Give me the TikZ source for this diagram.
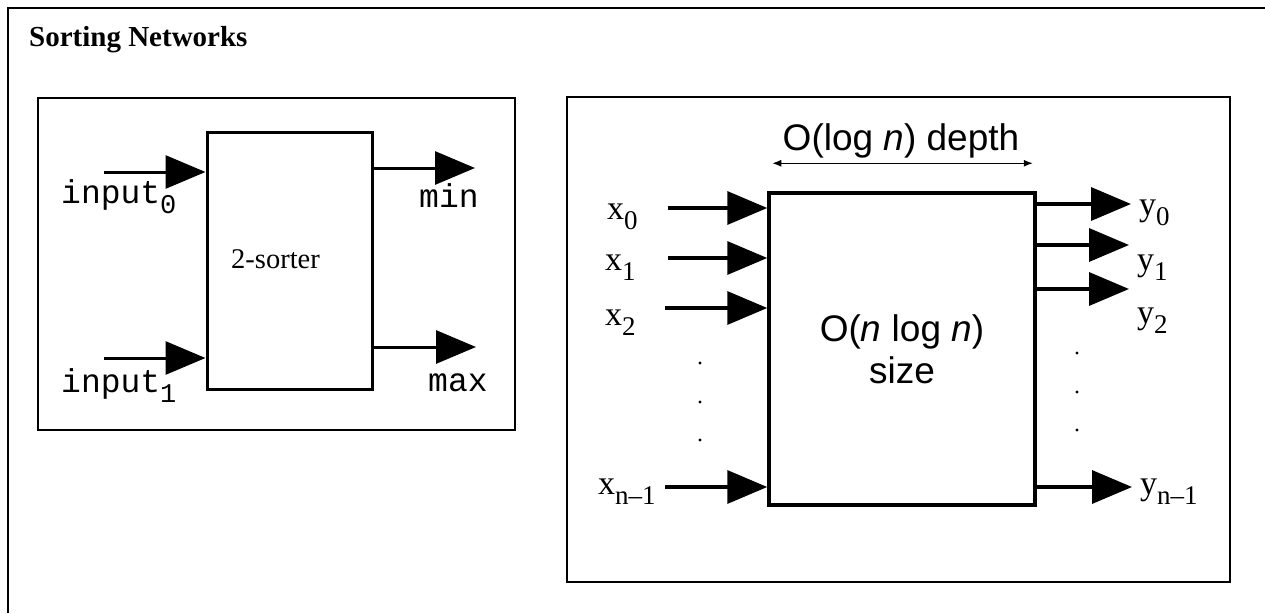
\documentclass[tikz,border=0pt]{standalone}
\usepackage{fontspec}
\setmainfont{Liberation Serif}
\setsansfont{Liberation Sans}
\setmonofont{Liberation Mono}
\usetikzlibrary{arrows.meta,positioning,calc}
\newcommand{\lowsub}[1]{\raisebox{-10pt}{\fontsize{27}{30}\selectfont #1}}
\tikzset{panel/.style={draw,line width=1.8pt}, blk/.style={draw,line width=3.5pt,inner sep=0pt,align=center}, sig/.style={-{Triangle[length=40pt,width=33pt]},line width=3.5pt}, span/.style={{Latex[length=9pt,width=7pt]}-{Latex[length=9pt,width=7pt]},line width=1.2pt}, lbl/.style={anchor=base west,inner sep=0pt}, serif/.style={font=\fontsize{34}{40}\selectfont}, mono/.style={font=\ttfamily\fontsize{33}{38}\selectfont}, sans/.style={font=\sffamily\fontsize{37}{42}\selectfont}}
\begin{document}
\begin{tikzpicture}[x=1pt,y=-1pt]
\useasboundingbox (0,0) rectangle (1265,613);
\draw[line width=2.5pt] (8,613) -- (8,8) -- (1265,8);
\node[lbl,font=\bfseries\fontsize{29}{34}\selectfont] (title) at (29,46) {Sorting Networks};
% 2-sorter
\draw[panel] (38,98) rectangle (515,430);
\node[blk,line width=3pt,minimum width=165pt,minimum height=257pt] (sorter) at (289.5,260.5) {};
\node[anchor=base,inner sep=0pt,font=\fontsize{28.5}{32}\selectfont] (sname) at (275.5,268) {2-sorter};
\coordinate (i0) at (104,172); \coordinate (i1) at (104,358);
\coordinate (omin) at (475,168); \coordinate (omax) at (476,347);
\draw[sig,line width=3pt] (i0) -- (i0 -| sorter.west);
\draw[sig,line width=3pt] (i1) -- (i1 -| sorter.west);
\draw[sig,line width=3pt] (omin -| sorter.east) -- (omin);
\draw[sig,line width=3pt] (omax -| sorter.east) -- (omax);
\node[lbl,mono] (in0) at (61,203) {input\lowsub{0}};
\node[lbl,mono] (in1) at (61,392) {input\lowsub{1}};
\node[lbl,mono] (min) at (419,207) {min};
\node[lbl,mono] (max) at (428,391) {max};
% network
\draw[panel] (567,97) rectangle (1230,582);
\node[blk,sans,minimum width=266pt,minimum height=312pt] (net) at (902,349) {O(\textit{n} log \textit{n})\\size};
\node[sans,anchor=base,inner sep=0pt] (depth) at (901,150) {O(log \textit{n}) depth};
\draw[span] ([shift={(5,-28)}]net.north west) -- ([shift={(-4,-28)}]net.north east);
\foreach \n/\y/\sx in {0/208/668,1/258/668,2/308/665,n/487/665} {
  \coordinate (x\n) at (\sx,\y);
  \draw[sig] (x\n) -- (x\n -| net.west);
}
\foreach \n/\y/\ex in {0/204/1131,1/245/1129,2/289/1129,n/487/1132} {
  \coordinate (y\n) at (\ex,\y);
  \draw[sig] (y\n -| net.east) -- (y\n);
}
\node[lbl,serif] (lx0) at (607,219) {x\lowsub{0}};
\node[lbl,serif] (lx1) at (605,270) {x\lowsub{1}};
\node[lbl,serif] (lx2) at (605,325) {x\lowsub{2}};
\node[lbl,serif] (lxn) at (598,494) {x\lowsub{n–1}};
\node[lbl,serif] (ly0) at (1139,215) {y\lowsub{0}};
\node[lbl,serif] (ly1) at (1137,270) {y\lowsub{1}};
\node[lbl,serif] (ly2) at (1137,323) {y\lowsub{2}};
\node[lbl,serif] (lyn) at (1140,494) {y\lowsub{n–1}};
\foreach \y in {363,402,440} \fill (700,\y) circle[radius=1.6pt];
\foreach \y in {353,392,430} \fill (1077,\y) circle[radius=1.6pt];
\end{tikzpicture}
\end{document}
